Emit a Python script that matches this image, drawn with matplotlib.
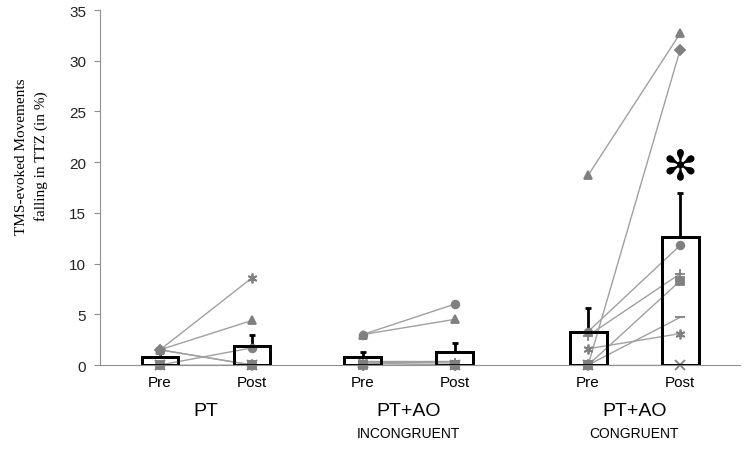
import numpy as np
import matplotlib
matplotlib.use('Agg')
import matplotlib.pyplot as plt

# conditions / tick labels
tick_labels = ['Pre', 'Post', 'Pre', 'Post', 'Pre', 'Post']
group_names = ['PT', 'PT+AO', 'PT+AO']
group_subs = ['', 'INCONGRUENT', 'CONGRUENT']

# group means and upper error (SE)
bar_means = [0.8, 1.85, 0.75, 1.3, 3.3, 12.6]
bar_err = [0.35, 1.15, 0.5, 0.9, 2.3, 4.4]

# subjects: marker per subject
markers = ['^', 'D', 'o', '+', 's', '_', (6, 2, 0), 'x']

# individual values (pre, post) per subject, per condition
pt_pre = [1.5, 1.5, 0.0, 1.5, 0.0, 0.0, 1.5, 0.0]
pt_post = [4.4, 0.0, 1.7, 0.0, 0.0, 0.0, 8.6, 0.0]
inc_pre = [3.0, 0.0, 3.0, 0.3, 0.0, 0.4, 0.0, 0.2]
inc_post = [4.5, 0.0, 6.0, 0.2, 0.0, 0.4, 0.0, 0.0]
con_pre = [18.7, 0.0, 3.3, 2.9, 0.0, 0.0, 1.6, 0.0]
con_post = [32.7, 31.1, 11.8, 9.0, 8.3, 4.7, 3.1, 0.0]

xpos = [0, 1, 2.2, 3.2, 4.65, 5.65]
group_x = [0.5, 2.7, 5.15]
star_y = 19.6

fig = plt.figure(figsize=(7.5, 4.6), dpi=100)
ax = fig.add_axes([0.1333, 0.2043, 0.8534, 0.7717])

gray_pt = '#808080'
gray_ln = '#a0a0a0'

pairs = [(pt_pre, pt_post), (inc_pre, inc_post), (con_pre, con_post)]
for g, (pre, post) in enumerate(pairs):
    x0, x1 = xpos[2 * g], xpos[2 * g + 1]
    for i in range(len(pre)):
        ax.plot([x0, x1], [pre[i], post[i]], color=gray_ln, lw=1, zorder=3)
        for xx, yy in [(x0, pre[i]), (x1, post[i])]:
            m = markers[i]
            filled = m not in ['+', '_', 'x'] and not isinstance(m, tuple)
            ax.plot(xx, yy, marker=m, ms=5.5 if filled else 7,
                    color=gray_pt, mec=gray_pt, mew=1.3,
                    linestyle='none', zorder=4, clip_on=False)

ax.bar(xpos, bar_means, width=0.4, color='white', edgecolor='black',
       linewidth=2, zorder=2)
ax.bar(xpos, bar_means, width=0.4, color='none', edgecolor='black',
       linewidth=2, zorder=5)
ax.errorbar(xpos, bar_means, yerr=[np.zeros(6), bar_err], fmt='none',
            ecolor='black', elinewidth=2, capsize=2.5, capthick=2, zorder=1)

ax.text(xpos[5], star_y, '\u273b', ha='center', va='center', fontsize=30,
        color='black', fontweight='bold')

ax.set_xlim(-0.652, 6.30)
ax.set_ylim(0, 35)
ax.set_yticks(np.arange(0, 36, 5))
ax.set_xticks(xpos)
ax.set_xticklabels(tick_labels, fontsize=11, family='Liberation Sans')
ax.tick_params(axis='x', length=0, pad=7)
ax.tick_params(axis='y', length=4, color='#909090', labelsize=11,
               labelcolor='#222222', pad=6)
for lab in ax.get_yticklabels():
    lab.set_family('Liberation Sans')

for s in ['top', 'right']:
    ax.spines[s].set_visible(False)
ax.spines['left'].set_color('#909090')
ax.spines['bottom'].set_color('#909090')

for gx, name, sub in zip(group_x, group_names, group_subs):
    ax.text(gx, -4.5, name, ha='center', va='center', fontsize=14,
            family='Liberation Sans')
    if sub:
        ax.text(gx, -6.7, sub, ha='center', va='center', fontsize=10,
                family='Liberation Sans')

fig.text(0.042, 0.66, 'TMS-evoked Movements\nfalling in TTZ (in %)',
         rotation=90, ha='center', va='center', fontsize=11,
         family='Liberation Serif', linespacing=1.5)

fig.savefig('out.png', dpi=100)
